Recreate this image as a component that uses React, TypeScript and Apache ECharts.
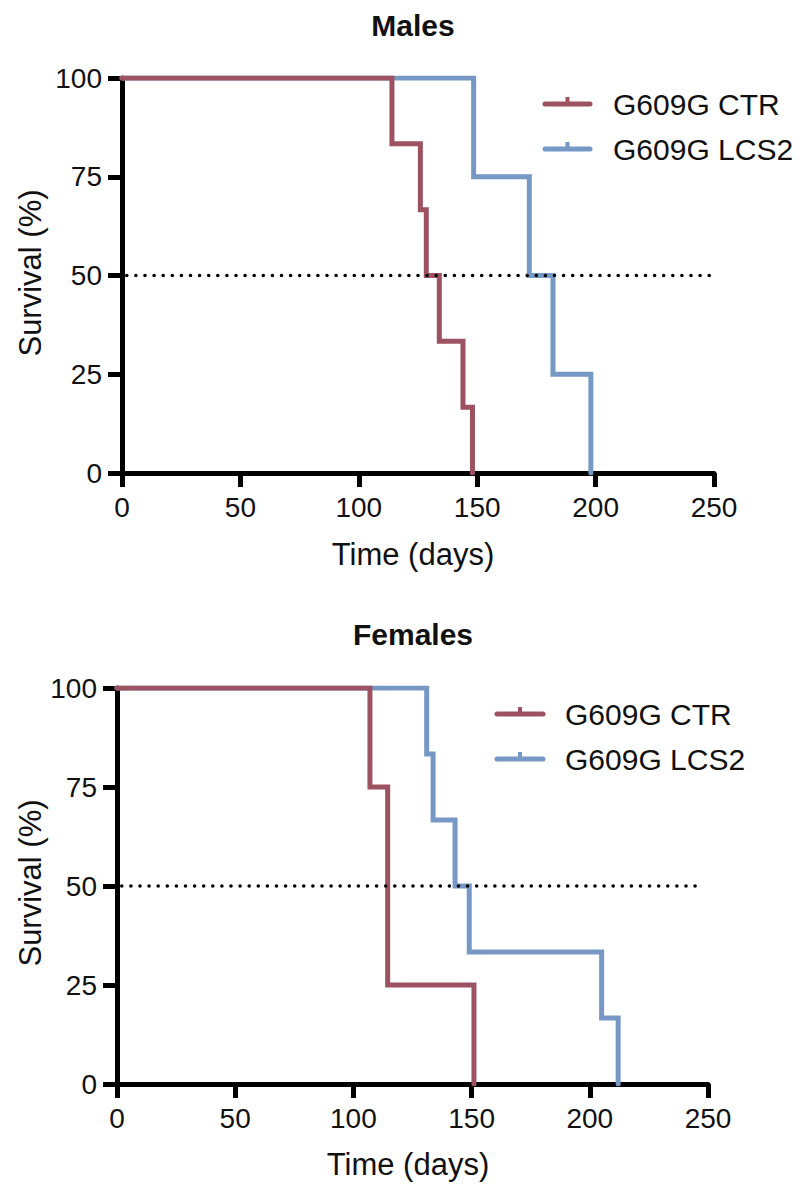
import React, { useEffect, useRef } from "react";
import * as echarts from "echarts";

// ---- data ----
const seriesNames = ["G609G CTR", "G609G LCS2"];
const colors = ["#9c5260", "#7698c5"];
const xTicks = [0, 50, 100, 150, 200, 250];
const yTicks = [0, 25, 50, 75, 100];

// Kaplan-Meier steps: [day, survival % after event]
const malesCTR: number[][] = [[0, 100], [114, 83.33], [126, 66.67], [128.5, 50], [134, 33.33], [144, 16.67], [148, 0]];
const malesLCS2: number[][] = [[0, 100], [148.5, 75], [172, 50], [182, 25], [198, 0]];
const femalesCTR: number[][] = [[0, 100], [107, 75], [114.5, 25], [151, 0]];
const femalesLCS2: number[][] = [[0, 100], [131, 83.33], [133.7, 66.67], [143, 50], [149, 33.33], [205, 16.67], [212, 0]];
const medianTop: number[][] = [[2, 50], [250, 50]];
const medianBottom: number[][] = [[2, 50], [247, 50]];

const FONT = "'Liberation Sans', Arial, Helvetica, sans-serif";

export default function App() {
  const ref = useRef<HTMLDivElement>(null);
  useEffect(() => {
    const chart = echarts.init(ref.current!, undefined, { renderer: "svg" });

    const grids = [
      { left: 122, top: 78, width: 592, height: 395 },
      { left: 117, top: 688, width: 591, height: 396 },
    ];

    const axisCommon = {
      axisLine: { show: true, lineStyle: { color: "#000", width: 5 } },
      axisTick: { show: true, length: 14, lineStyle: { color: "#000", width: 5 } },
      splitLine: { show: false },
    };

    const xAxes = grids.map((_, i) => ({
      type: "value",
      gridIndex: i,
      min: 0,
      max: 250,
      interval: 50,
      ...axisCommon,
      axisLabel: { margin: 20, fontSize: 28, color: "#111", fontFamily: FONT },
    }));
    const yAxes = grids.map((_, i) => ({
      type: "value",
      gridIndex: i,
      min: 0,
      max: 100,
      interval: 25,
      ...axisCommon,
      axisLabel: { margin: 20, fontSize: 28, color: "#111", fontFamily: FONT },
    }));

    const kmSeries = (name: string, data: number[][], idx: number, color: string, z: number) => ({
      name,
      type: "line",
      step: "end",
      xAxisIndex: idx,
      yAxisIndex: idx,
      data,
      symbol: "none",
      z,
      lineStyle: { color, width: 5, cap: "round", join: "miter" },
    });
    const dotted = (data: number[][], idx: number) => ({
      type: "line",
      xAxisIndex: idx,
      yAxisIndex: idx,
      data,
      symbol: "none",
      z: 10,
      lineStyle: { color: "#000", width: 3.5, type: [0.1, 9], cap: "round" },
    });

    const legendGraphics = (lx1: number, lx2: number, ys: number[], tx: number) => {
      const out: any[] = [];
      ys.forEach((y, k) => {
        out.push({
          type: "line",
          shape: { x1: lx1, y1: y, x2: lx2, y2: y },
          style: { stroke: colors[k], lineWidth: 5, lineCap: "round" },
        });
        out.push({
          type: "rect",
          shape: { x: (lx1 + lx2) / 2 - 2, y: y - 7, width: 4, height: 7 },
          style: { fill: colors[k] },
        });
        out.push({
          type: "text",
          x: tx,
          y,
          style: { text: seriesNames[k], fontSize: 30, fontFamily: FONT, fill: "#111", textVerticalAlign: "middle", textAlign: "left" },
        });
      });
      return out;
    };

    const textEl = (text: string, x: number, y: number, size: number, bold = false, rotation = 0) => ({
      type: "text",
      x,
      y,
      rotation,
      style: {
        text,
        fontSize: size,
        fontWeight: bold ? "bold" : "normal",
        fontFamily: FONT,
        fill: "#111",
        textAlign: "center",
        textVerticalAlign: "middle",
      },
    });

    chart.setOption({
      animation: false,
      backgroundColor: "#fff",
      grid: grids,
      xAxis: xAxes,
      yAxis: yAxes,
      series: [
        kmSeries(seriesNames[1], malesLCS2, 0, colors[1], 2),
        kmSeries(seriesNames[0], malesCTR, 0, colors[0], 3),
        dotted(medianTop, 0),
        kmSeries(seriesNames[1], femalesLCS2, 1, colors[1], 2),
        kmSeries(seriesNames[0], femalesCTR, 1, colors[0], 3),
        dotted(medianBottom, 1),
      ],
      graphic: [
        textEl("Males", 413, 25, 30, true),
        textEl("Females", 413, 634, 30, true),
        textEl("Time (days)", 413, 554, 31),
        textEl("Time (days)", 408, 1164, 31),
        textEl("Survival (%)", 30, 273, 31, false, Math.PI / 2),
        textEl("Survival (%)", 30, 883, 31, false, Math.PI / 2),
        ...legendGraphics(545, 590, [104, 149], 613),
        ...legendGraphics(497, 543, [714, 759], 565),
      ],
    });
    return () => chart.dispose();
  }, []);
  return <div ref={ref} style={{ position: "fixed", left: 0, top: 0, width: 800, height: 1195 }} />;
}
